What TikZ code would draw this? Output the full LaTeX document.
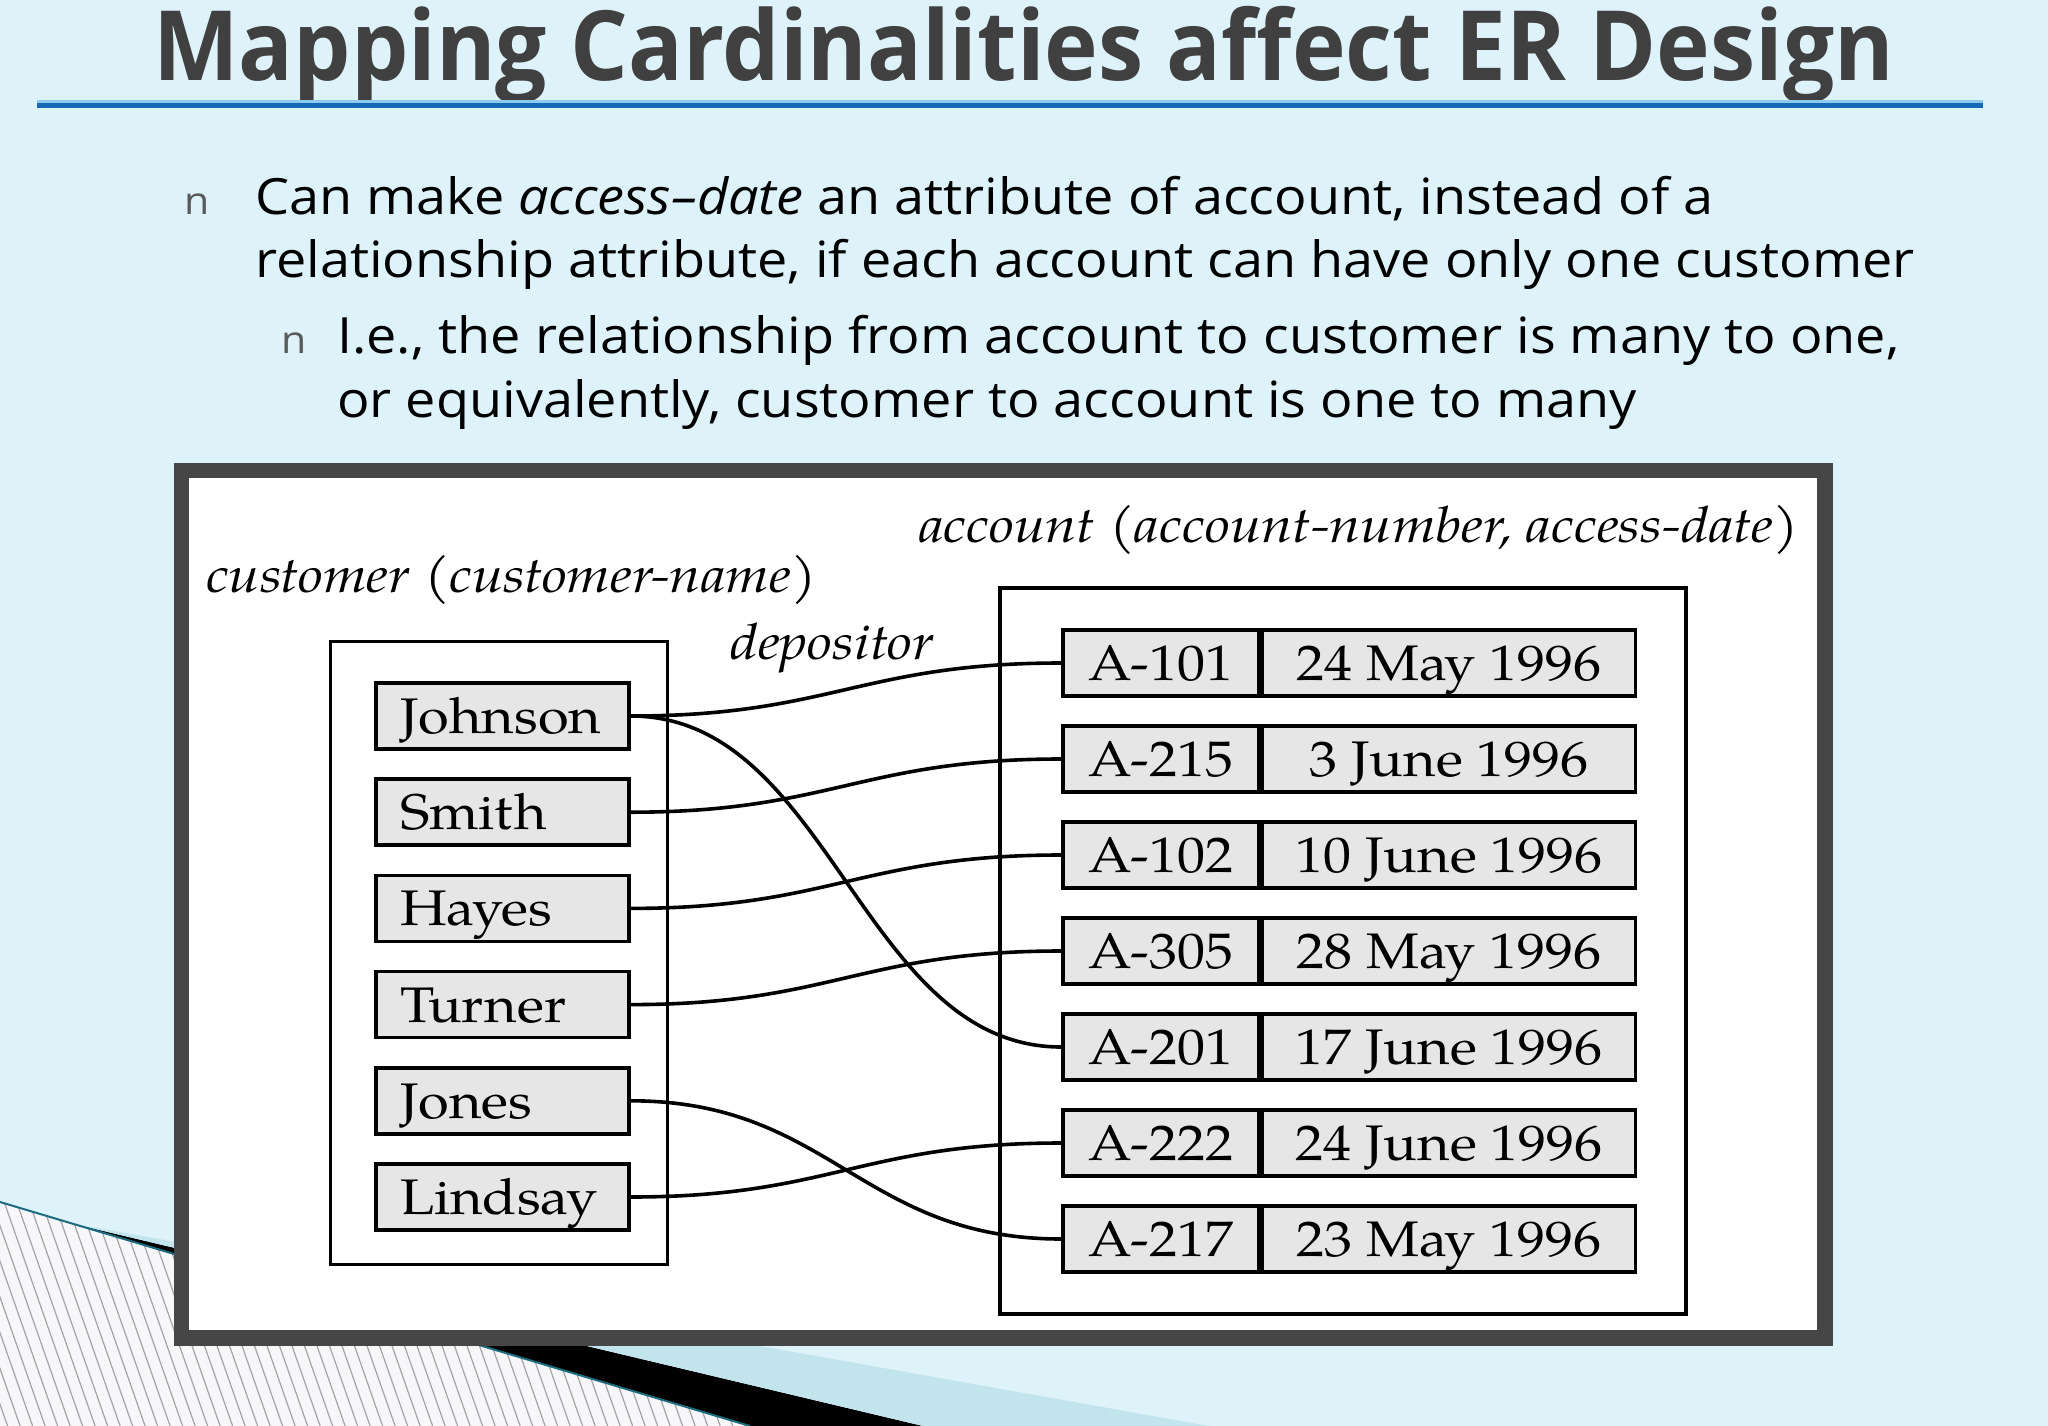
\documentclass[tikz,border=0pt]{standalone}
\usepackage{fontspec}
\usepackage{graphicx}
\newfontfamily\slidefont[FakeStretch=1.08]{Open Sans}
\newfontfamily\titlefont{Open Sans}
\newfontfamily\palfont[FakeStretch=1.12]{TeX Gyre Pagella}
\newcommand\palrm{\palfont\upshape}
\newcommand\palit{\palfont\itshape}
\definecolor{bgblue}{HTML}{DEF2FA}
\definecolor{titlegray}{HTML}{404040}
\definecolor{bulletgray}{HTML}{5A5A5A}
\definecolor{ruleblue}{HTML}{1668B8}
\definecolor{rulelight}{HTML}{8CCBEB}
\definecolor{framegray}{HTML}{464646}
\definecolor{rowgray}{HTML}{E6E6E6}
\definecolor{hatchbg}{HTML}{F7F7F9}
\definecolor{hatchline}{HTML}{A4A4A4}
\definecolor{tealband}{HTML}{C2E4EC}
\definecolor{darkteal}{HTML}{1B6C7F}
\tikzset{
  crow/.style={draw, line width=3.5, fill=rowgray, minimum width=253, minimum height=66,
    inner xsep=24, inner ysep=0, text width=205, align=left, text height=35, text depth=0,
    font=\palrm\fontsize{50}{50}\selectfont},
  aid/.style={draw, line width=3.5, fill=rowgray, minimum width=196, minimum height=66,
    inner sep=0, text height=35, text depth=0, font=\palrm\fontsize{50}{50}\selectfont},
  adate/.style={aid, minimum width=373, anchor=west},
  conn/.style={line width=3.6},
  lbl/.style={inner sep=0, font=\palit\fontsize{50}{50}\selectfont},
  body/.style={inner sep=0, anchor=base west, font=\slidefont\fontsize{50}{62}\selectfont},
  bul/.style={inner sep=0, anchor=base west, text=bulletgray, font=\slidefont\fontsize{38}{40}\selectfont}
}
\begin{document}
\begin{tikzpicture}[x=1pt,y=-1pt]
\useasboundingbox (0,0) rectangle (2048,1426);
\fill[bgblue] (0,0) rectangle (2048,1426);
% bottom decoration
\coordinate (P) at (72,1223.5);
\fill[hatchbg] (0,1202) -- (750,1426) -- (0,1426) -- cycle;
\begin{scope}
  \clip (0,1202) -- (750,1426) -- (0,1426) -- cycle;
  \foreach \i in {-10,...,70} {
    \draw[hatchline, line width=1.2] (\i*12.5,1190) -- ++(84,240);
  }
\end{scope}
\fill[black] (P) -- (923,1426) -- (750,1426) -- cycle;
\fill[tealband] (P) -- (1209,1426) -- (923,1426) -- cycle;
\draw[darkteal, line width=2] (0,1202) -- (750,1426);
% title
\node[inner sep=0, anchor=base west, text=titlegray, font=\titlefont\bfseries\fontsize{97}{100}\selectfont] (title) at (153,81) {\resizebox{1741pt}{\height}{Mapping Cardinalities affect ER Design}};
\fill[rulelight] (37,100.5) rectangle (1983,103);
\fill[ruleblue] (37,103) rectangle (1983,108.5);
% bullets
\node[bul] (b1) at (184,214) {n};
\node[body] (t1) at (255,214) {Can make \textit{access–date} an attribute of account, instead of a};
\node[body] (t2) at (255,277) {relationship attribute, if each account can have only one customer};
\node[bul] (b2) at (281,353) {n};
\node[body] (t3) at (337,353) {I.e., the relationship from account to customer is many to one,};
\node[body] (t4) at (337,417) {or equivalently, customer to account is one to many};
% frame
\fill[framegray] (174,463) rectangle (1833,1346);
\fill[white] (189,478) rectangle (1817,1330);
% labels
\node[lbl, anchor=base east] (acclbl) at (1799,542) {account (account-number, access-date)};
\node[lbl, anchor=base west] (custlbl) at (206,592) {customer (customer-name)};
\node[lbl, anchor=base west] (deplbl) at (730,659) {depositor};
% containers
\draw[line width=3] (330,641) rectangle (667,1264);
\draw[line width=3.5] (1000,588) rectangle (1686,1314);
% customers
\node[crow] (johnson) at (502.5,716) {Johnson};
\node[crow] (smith) at (502.5,812.2) {Smith};
\node[crow] (hayes) at (502.5,908.4) {Hayes};
\node[crow] (turner) at (502.5,1004.6) {Turner};
\node[crow] (jones) at (502.5,1100.8) {Jones};
\node[crow] (lindsay) at (502.5,1197) {Lindsay};
% accounts
\node[aid] (a101) at (1161,663) {A-101};
\node[adate] (d101) at (a101.east) {24 May 1996};
\node[aid] (a215) at (1161,759) {A-215};
\node[adate] (d215) at (a215.east) {3 June 1996};
\node[aid] (a102) at (1161,855) {A-102};
\node[adate] (d102) at (a102.east) {10 June 1996};
\node[aid] (a305) at (1161,951) {A-305};
\node[adate] (d305) at (a305.east) {28 May 1996};
\node[aid] (a201) at (1161,1047) {A-201};
\node[adate] (d201) at (a201.east) {17 June 1996};
\node[aid] (a222) at (1161,1143) {A-222};
\node[adate] (d222) at (a222.east) {24 June 1996};
\node[aid] (a217) at (1161,1239) {A-217};
\node[adate] (d217) at (a217.east) {23 May 1996};
% connectors
\draw[conn] (johnson.east) .. controls +(200,0) and +(-200,0) .. (a101.west);
\draw[conn] (johnson.east) .. controls +(200,0) and +(-200,0) .. (a201.west);
\draw[conn] (smith.east) .. controls +(200,0) and +(-200,0) .. (a215.west);
\draw[conn] (hayes.east) .. controls +(200,0) and +(-200,0) .. (a102.west);
\draw[conn] (turner.east) .. controls +(200,0) and +(-200,0) .. (a305.west);
\draw[conn] (jones.east) .. controls +(200,0) and +(-200,0) .. (a217.west);
\draw[conn] (lindsay.east) .. controls +(200,0) and +(-200,0) .. (a222.west);
\end{tikzpicture}
\end{document}
